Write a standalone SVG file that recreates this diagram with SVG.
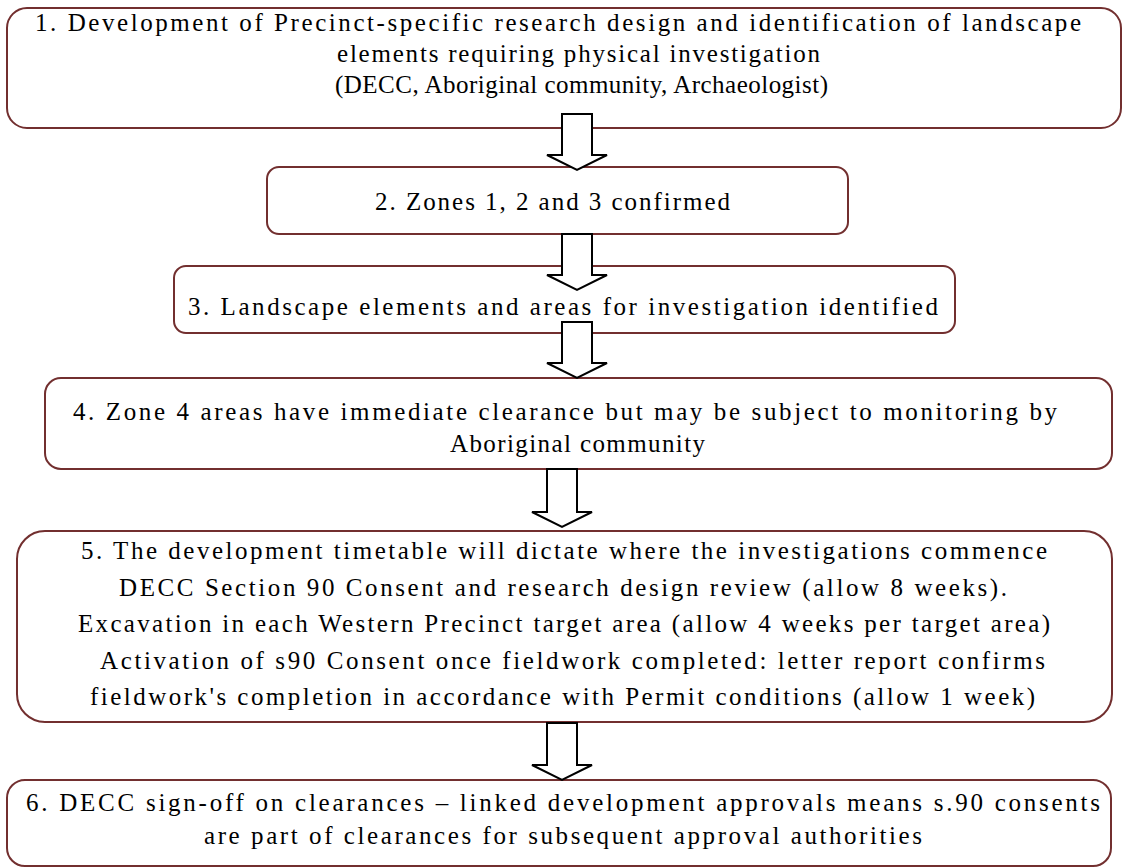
<svg xmlns="http://www.w3.org/2000/svg" width="1123" height="868" viewBox="0 0 1123 868">
<style>
.box{fill:#ffffff;stroke:#722f2f;stroke-width:2}
.arr{fill:#ffffff;stroke:#000000;stroke-width:2;stroke-linejoin:miter}
.t{font-family:"Liberation Serif","Times New Roman",serif;font-size:25px;fill:#000000}
</style>
<rect width="1123" height="868" fill="#ffffff"/>
<g id="node1">
<rect class="box" x="7" y="8" width="1114" height="120" rx="20" ry="20"/>
<text class="t" x="35" y="31" textLength="1046" lengthAdjust="spacing">1.  Development of Precinct-specific research design and identification of landscape</text>
<text class="t" x="337" y="62" textLength="483" lengthAdjust="spacing">elements requiring physical investigation</text>
<text class="t" x="335" y="93" textLength="493" lengthAdjust="spacing">(DECC, Aboriginal community, Archaeologist)</text>
</g>
<g id="node2">
<rect class="box" x="267" y="167" width="581" height="67" rx="12" ry="12"/>
<text class="t" x="375" y="210" textLength="355" lengthAdjust="spacing">2. Zones 1, 2 and 3 confirmed</text>
</g>
<g id="node3">
<rect class="box" x="174" y="266" width="781" height="67" rx="12" ry="12"/>
<text class="t" x="188" y="315" textLength="750" lengthAdjust="spacing">3. Landscape elements and areas for investigation identified</text>
</g>
<g id="node4">
<rect class="box" x="45" y="378" width="1067" height="91" rx="16" ry="16"/>
<text class="t" x="73" y="420" textLength="984" lengthAdjust="spacing">4. Zone 4 areas have immediate clearance but may be subject to monitoring by</text>
<text class="t" x="450" y="452" textLength="255" lengthAdjust="spacing">Aboriginal community</text>
</g>
<g id="node5">
<rect class="box" x="17" y="531" width="1095" height="191" rx="28" ry="28"/>
<text class="t" x="81" y="559" textLength="966" lengthAdjust="spacing">5. The development timetable will dictate where the investigations commence</text>
<text class="t" x="119" y="596" textLength="888" lengthAdjust="spacing">DECC Section 90 Consent and research design review (allow 8 weeks).</text>
<text class="t" x="78" y="632" textLength="972" lengthAdjust="spacing">Excavation in each Western Precinct target area (allow 4 weeks per target area)</text>
<text class="t" x="100" y="669" textLength="945" lengthAdjust="spacing">Activation of s90 Consent once fieldwork completed: letter report confirms</text>
<text class="t" x="90" y="705" textLength="945" lengthAdjust="spacing">fieldwork's completion in accordance with Permit conditions (allow 1 week)</text>
</g>
<g id="node6">
<rect class="box" x="7" y="780" width="1104" height="86" rx="18" ry="18"/>
<text class="t" x="26" y="811" textLength="1074" lengthAdjust="spacing">6. DECC sign-off on clearances – linked development approvals means s.90 consents</text>
<text class="t" x="204" y="844" textLength="718" lengthAdjust="spacing">are part of clearances for subsequent approval authorities</text>
</g>
<g id="connectors">
<polygon class="arr" points="562,114 592,114 592,155 607,155 577,170 547,155 562,155"/>
<polygon class="arr" points="562,234 592,234 592,275 607,275 577,290 547,275 562,275"/>
<polygon class="arr" points="562,322 592,322 592,363 607,363 577,378 547,363 562,363"/>
<polygon class="arr" points="547,469 577,469 577,512 592,512 562,527 532,512 547,512"/>
<polygon class="arr" points="547,723 577,723 577,765 592,765 562,780 532,765 547,765"/>
</g>
</svg>
